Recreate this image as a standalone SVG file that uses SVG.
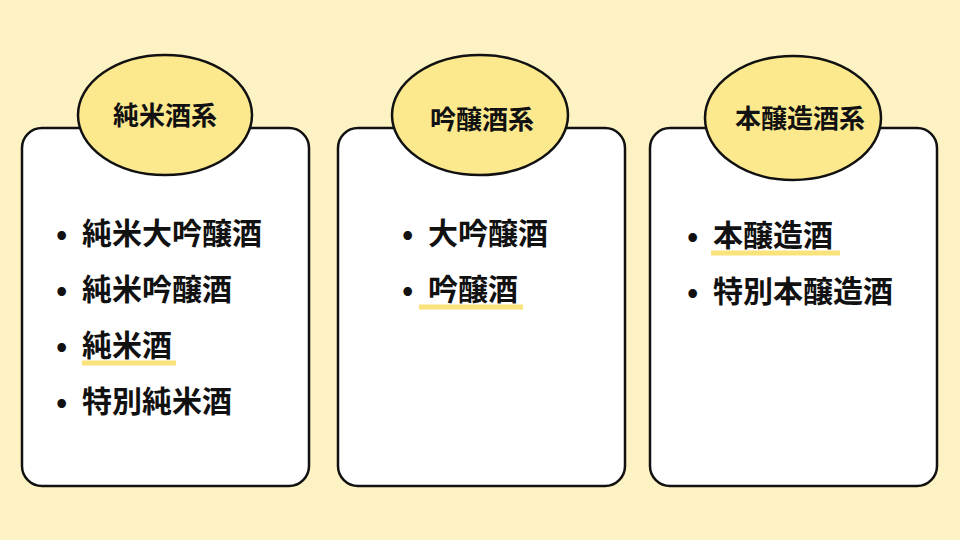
<svg xmlns="http://www.w3.org/2000/svg" width="960" height="540" viewBox="0 0 960 540">
<style>
.card{fill:#fff;stroke:#111;stroke-width:2.5}
.oval{fill:#fce98e;stroke:#111;stroke-width:2.5}
.h{font-family:"Noto Sans CJK JP",sans-serif;font-weight:700;font-size:26px;fill:#111;text-anchor:middle}
.t{font-family:"Noto Sans CJK JP",sans-serif;font-weight:700;font-size:30px;fill:#111}
.hl{stroke:#f9e37a;stroke-width:5}
</style>
<rect width="960" height="540" fill="#fdf2c3"/>
<g id="card1">
<rect class="card" x="22" y="128" width="287" height="358" rx="20"/>
<ellipse class="oval" cx="165" cy="115" rx="87" ry="60"/>
<text class="h" x="165" y="125">純米酒系</text>
<line class="hl" x1="82" y1="363" x2="176" y2="363"/>
<text class="t" x="56" y="244">•</text><text class="t" x="82" y="244">純米大吟醸酒</text>
<text class="t" x="56" y="300">•</text><text class="t" x="82" y="300">純米吟醸酒</text>
<text class="t" x="56" y="356">•</text><text class="t" x="82" y="356">純米酒</text>
<text class="t" x="56" y="412">•</text><text class="t" x="82" y="412">特別純米酒</text>
</g>
<g id="card2">
<rect class="card" x="338" y="128" width="287" height="358" rx="20"/>
<ellipse class="oval" cx="480" cy="115" rx="88" ry="60"/>
<text class="h" x="482" y="129">吟醸酒系</text>
<line class="hl" x1="419" y1="307" x2="523" y2="307"/>
<text class="t" x="402" y="244">•</text><text class="t" x="428" y="244">大吟醸酒</text>
<text class="t" x="402" y="300">•</text><text class="t" x="428" y="300">吟醸酒</text>
</g>
<g id="card3">
<rect class="card" x="650" y="128" width="287" height="358" rx="20"/>
<ellipse class="oval" cx="793" cy="118" rx="88" ry="62"/>
<text class="h" x="800" y="128">本醸造酒系</text>
<line class="hl" x1="711" y1="253" x2="840" y2="253"/>
<text class="t" x="687" y="246">•</text><text class="t" x="713" y="246">本醸造酒</text>
<text class="t" x="687" y="302">•</text><text class="t" x="713" y="302">特別本醸造酒</text>
</g>
<g id="connectors"/>
</svg>
